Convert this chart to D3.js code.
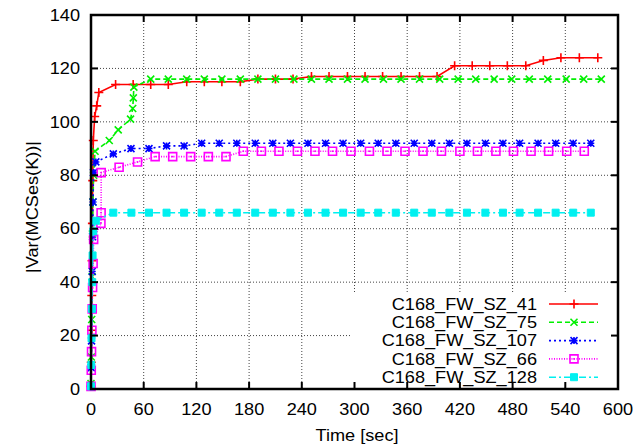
<!DOCTYPE html>
<html>
<head>
<meta charset="utf-8">
<script src="https://cdn.jsdelivr.net/npm/d3@7"></script>
<style>
  body { margin: 0; background: #fff; }
  svg { display: block; font-family: "Liberation Sans", Arial, sans-serif; }
  .lbl { font-size: 16.5px; fill: #000; }
</style>
</head>
<body>
<svg id="chart" width="639" height="445"></svg>
<script>
// tick labels
var xTicks = [0, 60, 120, 180, 240, 300, 360, 420, 480, 540, 600]
var yTicks = [0, 20, 40, 60, 80, 100, 120, 140]

// series names
var names = ["C168_FW_SZ_41", "C168_FW_SZ_75", "C168_FW_SZ_107", "C168_FW_SZ_66", "C168_FW_SZ_128"]

// time [sec] and |Var(MCSes(K))| per series
var t41 = [0, 0.3, 0.6, 0.9, 1.2, 1.6, 2.0, 2.6, 4.2, 6.5, 8.9, 28, 48, 68, 88, 109, 129, 149, 170, 190, 210, 230, 251, 271, 292, 312, 332, 353, 374, 394, 414, 434, 454, 474, 495, 515, 535, 556, 577]
var v41 = [1, 10, 22, 35, 48, 62, 78, 93, 102, 106, 111, 114, 114, 114, 114, 115, 115, 115, 115, 116, 116, 116, 117, 117, 117, 117, 117, 117, 117, 117, 121, 121, 121, 121, 121, 123, 124, 124, 124]

var t75 = [0, 0.4, 0.8, 1.2, 1.6, 2.2, 3.0, 4.6, 20.8, 31, 45, 47.5, 48.2, 48.8, 68, 88, 109, 129, 149, 170, 190, 210, 231, 251, 271, 292, 312, 333, 353, 374, 397, 418, 438, 459, 479, 499, 520, 541, 561, 581]
var v75 = [2, 12, 26, 42, 58, 70, 80, 89, 93, 97, 101, 105, 109, 113, 116, 116, 116, 116, 116, 116, 116, 116, 116, 116, 116, 116, 116, 116, 116, 116, 116, 116, 116, 116, 116, 116, 116, 116, 116, 116]

var t107 = [0, 0.3, 0.6, 1.0, 1.4, 1.8, 2.3, 2.8, 5.5, 25.4, 45.5, 66, 86, 106, 126, 146, 166, 187, 207, 227, 247, 267, 287, 307, 327, 347, 368, 388, 408, 428, 449, 469, 488, 509, 529, 549, 569]
var v107 = [1, 8, 18, 30, 44, 57, 70, 81, 85, 88, 90, 90, 91, 91, 92, 92, 92, 92, 92, 92, 92, 92, 92, 92, 92, 92, 92, 92, 92, 92, 92, 92, 92, 92, 92, 92, 92]

var t66 = [0, 0.3, 0.6, 1.0, 1.4, 1.8, 2.4, 3.0, 11.3, 11.5, 11.6, 32, 53, 73, 93, 113.5, 133.6, 153.7, 173.4, 194, 214, 235, 255, 275, 296, 317, 337, 357.5, 378, 399, 420, 440, 461, 481, 501, 521, 541.6, 561.6]
var v66 = [1, 7, 14, 22, 30, 38, 47, 56, 62, 66, 81, 83, 85, 87, 87, 87, 87, 87, 89, 89, 89, 89, 89, 89, 89, 89, 89, 89, 89, 89, 89, 89, 89, 89, 89, 89, 89, 89]

var t128 = [0, 0.3, 0.6, 1.0, 1.4, 1.8, 2.6, 5.5, 25.4, 46, 66, 86, 106, 126, 146, 166, 187, 207, 227, 247, 267, 287, 307, 327, 347, 368, 388, 408, 428, 449, 469, 488, 509, 529, 549, 569]
var v128 = [1, 9, 19, 30, 40, 50, 59, 63, 66, 66, 66, 66, 66, 66, 66, 66, 66, 66, 66, 66, 66, 66, 66, 66, 66, 66, 66, 66, 66, 66, 66, 66, 66, 66, 66, 66]

var colors = ["#ff0000", "#00f000", "#0000ff", "#ff00ff", "#00f0f0"]
var dashes = [null, "5,3", "2,3", "1,1.5", "7,3,2,3"]
var markers = ["plus", "cross", "star", "box", "fbox"]

var series = [[t41, v41], [t75, v75], [t107, v107], [t66, v66], [t128, v128]].map(function(s, i) {
	return {
		name: names[i], color: colors[i], dash: dashes[i], marker: markers[i],
		points: s[0].map(function(t, j) { return {t: t, v: s[1][j]} })
	}
})

var pl = 91, pr = 618, pt = 15, pb = 389

var x = d3.scaleLinear().domain([0, 600]).range([pl, pr])
var y = d3.scaleLinear().domain([0, 140]).range([pb, pt])

var svg = d3.select("#chart")

// gnuplot font looks a bit wider than Liberation Sans
function widen(sel) {
	sel.each(function() {
		var w = this.getComputedTextLength()
		d3.select(this).attr("textLength", w * 1.1).attr("lengthAdjust", "spacingAndGlyphs")
	})
}

// grid
svg.append("g").selectAll("line")
	.data(xTicks.slice(1, -1))
	.enter().append("line")
	.attr("x1", function(d) { return x(d) }).attr("x2", function(d) { return x(d) })
	.attr("y1", pt).attr("y2", pb)
	.attr("stroke", "#444").attr("stroke-width", 1).attr("stroke-dasharray", "1,2")
svg.append("g").selectAll("line")
	.data(yTicks.slice(1, -1))
	.enter().append("line")
	.attr("y1", function(d) { return y(d) }).attr("y2", function(d) { return y(d) })
	.attr("x1", pl).attr("x2", pr)
	.attr("stroke", "#444").attr("stroke-width", 1).attr("stroke-dasharray", "1,2")

// key box hides grid
var keyX = 350, keyY = 294
svg.append("rect")
	.attr("x", keyX).attr("y", keyY).attr("width", pr - keyX - 4).attr("height", pb - keyY - 2)
	.attr("fill", "#fff")

function markerPath(type, s) {
	var h = s / 2
	if (type == "plus") return "M" + (-h) + ",0H" + h + "M0," + (-h) + "V" + h
	if (type == "cross") return "M" + (-h) + "," + (-h) + "L" + h + "," + h + "M" + (-h) + "," + h + "L" + h + "," + (-h)
	if (type == "star") return "M" + (-h) + ",0H" + h + "M0," + (-h) + "V" + h +
		"M" + (-h) + "," + (-h) + "L" + h + "," + h + "M" + (-h) + "," + h + "L" + h + "," + (-h)
	return "M" + (-h) + "," + (-h) + "H" + h + "V" + h + "H" + (-h) + "Z"
}

function drawMarker(g, type, color) {
	if (type == "fbox") {
		g.append("path").attr("d", markerPath("box", 7)).attr("fill", color).attr("stroke", color).attr("stroke-width", 1)
	} else if (type == "box") {
		g.append("path").attr("d", markerPath("box", 8)).attr("fill", "none").attr("stroke", color).attr("stroke-width", 1.6)
		g.append("rect").attr("x", -0.8).attr("y", -0.8).attr("width", 1.6).attr("height", 1.6).attr("fill", color)
	} else {
		g.append("path").attr("d", markerPath(type, type == "plus" ? 9 : 7)).attr("fill", "none").attr("stroke", color).attr("stroke-width", 1.6)
	}
}

var line = d3.line().x(function(d) { return x(d.t) }).y(function(d) { return y(d.v) })

var plot = svg.append("g")
series.forEach(function(s) {
	plot.append("path")
		.datum(s.points)
		.attr("d", line)
		.attr("fill", "none")
		.attr("stroke", s.color)
		.attr("stroke-width", 1.6)
		.attr("stroke-dasharray", s.dash)
	plot.selectAll(".m-" + s.marker)
		.data(s.points)
		.enter().append("g")
		.attr("class", "m-" + s.marker)
		.attr("transform", function(d) { return "translate(" + x(d.t) + "," + y(d.v) + ")" })
		.each(function() { drawMarker(d3.select(this), s.marker, s.color) })
})

// key
var key = svg.append("g").selectAll("g")
	.data(series)
	.enter().append("g")
	.attr("transform", function(d, i) { return "translate(0," + (304 + i * 18.3) + ")" })
key.append("text")
	.attr("class", "lbl")
	.attr("x", 537).attr("dy", "0.35em")
	.attr("text-anchor", "end")
	.text(function(d) { return d.name })
	.call(widen)
key.append("line")
	.attr("x1", 549).attr("x2", 598)
	.attr("stroke", function(d) { return d.color })
	.attr("stroke-width", 1.6)
	.attr("stroke-dasharray", function(d) { return d.dash })
key.each(function(d) {
	var g = d3.select(this).append("g").attr("transform", "translate(574,0)")
	drawMarker(g, d.marker, d.color)
})

// ticks, inward on all sides
var tk = svg.append("g").attr("stroke", "#000").attr("stroke-width", 2)
xTicks.forEach(function(d) {
	tk.append("line").attr("x1", x(d)).attr("x2", x(d)).attr("y1", pb).attr("y2", pb - 7)
	tk.append("line").attr("x1", x(d)).attr("x2", x(d)).attr("y1", pt).attr("y2", pt + 7)
})
yTicks.forEach(function(d) {
	tk.append("line").attr("y1", y(d)).attr("y2", y(d)).attr("x1", pl).attr("x2", pl + 7)
	tk.append("line").attr("y1", y(d)).attr("y2", y(d)).attr("x1", pr).attr("x2", pr - 7)
})

// border
svg.append("rect")
	.attr("x", pl).attr("y", pt).attr("width", pr - pl).attr("height", pb - pt)
	.attr("fill", "none").attr("stroke", "#000").attr("stroke-width", 2.5)

// tick labels
svg.append("g").selectAll("text")
	.data(xTicks)
	.enter().append("text")
	.attr("class", "lbl")
	.attr("x", function(d) { return x(d) }).attr("y", 415)
	.attr("text-anchor", "middle")
	.text(function(d) { return d })
	.call(widen)
svg.append("g").selectAll("text")
	.data(yTicks)
	.enter().append("text")
	.attr("class", "lbl")
	.attr("x", 80).attr("y", function(d) { return y(d) }).attr("dy", "0.35em")
	.attr("text-anchor", "end")
	.text(function(d) { return d })
	.call(widen)

// axis titles
svg.append("text")
	.attr("class", "lbl")
	.attr("x", 357).attr("y", 441)
	.attr("text-anchor", "middle")
	.text("Time [sec]")
	.call(widen)
svg.append("text")
	.attr("class", "lbl")
	.attr("transform", "translate(38,207) rotate(-90)")
	.attr("text-anchor", "middle")
	.text("|Var(MCSes(K))|")
	.call(widen)
</script>
</body>
</html>
